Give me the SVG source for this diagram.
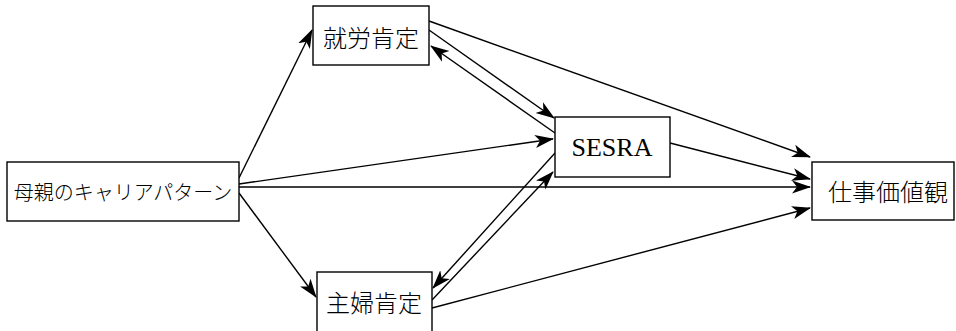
<svg xmlns="http://www.w3.org/2000/svg" width="956" height="331" viewBox="0 0 956 331">
<style>
.box{fill:#fff;stroke:#000;stroke-width:1.4}
.jp{font-family:"Noto Sans CJK JP","Noto Sans",sans-serif;font-weight:300;fill:#000;text-anchor:middle;dominant-baseline:central}
.lat{font-family:"Liberation Serif",serif;fill:#000;text-anchor:middle}
.c{fill:none;stroke:#000;stroke-width:1.4;marker-end:url(#ah)}
</style>
<defs>
<marker id="ah" markerUnits="userSpaceOnUse" markerWidth="20" markerHeight="14" refX="18" refY="7" orient="auto">
<path d="M0,0.5 L19,7 L0,13.5 L5,7 z" fill="#000"/>
</marker>
</defs>
<rect width="956" height="331" fill="#fff"/>
<g id="connectors">
<line class="c" x1="239" y1="178" x2="312" y2="30"/>
<line class="c" x1="239" y1="193" x2="316" y2="297"/>
<line class="c" x1="239" y1="184" x2="553" y2="139"/>
<line class="c" x1="239" y1="187" x2="810" y2="187"/>
<line class="c" x1="429" y1="30" x2="554" y2="118"/>
<line class="c" x1="555" y1="133" x2="431" y2="46"/>
<line class="c" x1="432" y1="300" x2="553" y2="172"/>
<line class="c" x1="555" y1="153" x2="433" y2="288"/>
<line class="c" x1="429" y1="21" x2="810" y2="157"/>
<line class="c" x1="670" y1="143" x2="810" y2="179"/>
<line class="c" x1="432" y1="308" x2="810" y2="208"/>
</g>
<g id="mother">
<rect class="box" x="7" y="162" width="232" height="59"/>
<text class="jp" x="123" y="191" font-size="20">母親のキャリアパターン</text>
</g>
<g id="shuro">
<rect class="box" x="313" y="6" width="116" height="59"/>
<text class="jp" x="371" y="36" font-size="24">就労肯定</text>
</g>
<g id="shufu">
<rect class="box" x="317" y="272" width="115" height="60"/>
<text class="jp" x="374" y="301" font-size="24">主婦肯定</text>
</g>
<g id="sesra">
<rect class="box" x="555" y="117" width="115" height="60"/>
<text class="lat" x="612" y="156" font-size="26">SESRA</text>
</g>
<g id="shigoto">
<rect class="box" x="812" y="162" width="142" height="58"/>
<text class="jp" x="888" y="190" font-size="24">仕事価値観</text>
</g>
</svg>
